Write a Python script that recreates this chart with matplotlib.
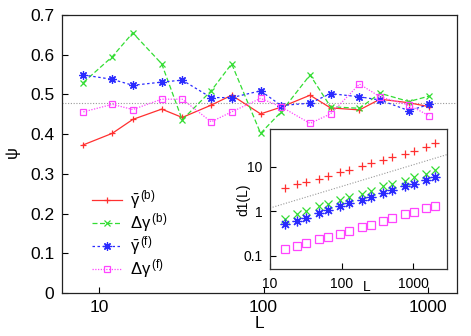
import numpy as np
import matplotlib
matplotlib.use("Agg")
import matplotlib.pyplot as plt

plt.rcParams.update({"font.family": "Liberation Sans", "font.size": 12.5,
                     "mathtext.fontset": "custom",
                     "mathtext.rm": "Liberation Sans",
                     "mathtext.it": "Liberation Sans",
                     "mathtext.sf": "Liberation Sans"})

RED, GREEN, BLUE, MAG = "#ff3030", "#33dd33", "#2a2aff", "#ff44ff"
STAR = (8, 2, 0)   # gnuplot pt 3: + and x together

# main panel: psi vs L
L_main = [8, 12, 16, 24, 32, 48, 64, 96, 128, 192, 256, 384, 512, 768, 1024]
gbar_b = [0.373, 0.402, 0.437, 0.463, 0.442, 0.473, 0.498, 0.451, 0.468, 0.498,
          0.466, 0.461, 0.488, 0.479, 0.469]
dg_b = [0.530, 0.595, 0.655, 0.577, 0.436, 0.509, 0.577, 0.402, 0.456, 0.549,
        0.469, 0.465, 0.503, 0.482, 0.496]
gbar_f = [0.549, 0.538, 0.523, 0.531, 0.536, 0.492, 0.492, 0.509, 0.472, 0.478,
          0.502, 0.494, 0.486, 0.459, 0.475]
dg_f = [0.456, 0.475, 0.462, 0.488, 0.488, 0.431, 0.456, 0.490, 0.469, 0.427,
        0.451, 0.526, 0.494, 0.473, 0.446]
psi_ref = 0.478

# inset: d1(L)
L_in = [16, 24, 32, 48, 64, 96, 128, 192, 256, 384, 512, 768, 1024, 1536, 2048]
d1_gbar_b = [3.36, 4.13, 4.58, 5.44, 6.14, 7.71, 8.69, 10.7, 12.3, 14.6, 16.8,
             20.0, 23.3, 28.7, 33.6]
d1_dg_b = [0.68, 0.87, 1.03, 1.29, 1.46, 1.83, 2.10, 2.50, 2.91, 3.65, 4.13,
           4.91, 5.82, 7.06, 8.38]
d1_gbar_f = [0.516, 0.623, 0.728, 0.915, 1.05, 1.29, 1.54, 1.83, 2.10, 2.59,
             2.96, 3.65, 4.13, 5.16, 5.94]
d1_dg_f = [0.143, 0.168, 0.192, 0.237, 0.263, 0.312, 0.365, 0.442, 0.506, 0.614,
           0.706, 0.869, 0.98, 1.21, 1.34]
guide_x = [10, 3000]
guide_y = [1.19, 19.0]

fig = plt.figure(figsize=(4.71, 3.36), dpi=100)
ax = fig.add_axes([0.1316, 0.128, 0.838, 0.8274])

ax.axhline(psi_ref, color="#999999", lw=0.8, ls=(0, (1, 1.5)), zorder=1)
ax.plot(L_main, gbar_b, color=RED, lw=0.9, ls="-", marker="+", ms=5, mew=0.9,
        label=r"$\bar{\gamma}^{\,(\mathrm{b})}$")
ax.plot(L_main, dg_b, color=GREEN, lw=0.9, ls=(0, (4, 2)), marker="x", ms=5, mew=0.9,
        label=r"$\Delta\gamma^{\,(\mathrm{b})}$")
ax.plot(L_main, gbar_f, color=BLUE, lw=0.9, ls=(0, (2, 2)), marker=STAR, ms=6, mew=0.9,
        label=r"$\bar{\gamma}^{\,(\mathrm{f})}$")
ax.plot(L_main, dg_f, color=MAG, lw=0.9, ls=(0, (1, 1.2)), marker="s", ms=5, mew=0.9,
        mfc="none", label=r"$\Delta\gamma^{\,(\mathrm{f})}$")

ax.set_xscale("log")
ax.set_xlim(5.93, 1500)
ax.set_ylim(0, 0.7)
ax.set_xticks([10, 100, 1000])
ax.set_xticklabels(["10", "100", "1000"])
ax.xaxis.set_minor_locator(matplotlib.ticker.NullLocator())
ax.set_yticks(np.arange(0, 0.71, 0.1))
ax.set_yticklabels(["0"] + [f"{v:.1f}" for v in np.arange(0.1, 0.71, 0.1)])
ax.tick_params(direction="in", length=4, width=0.8, top=False, right=False)
ax.tick_params(axis="y", pad=5.5)
ax.tick_params(axis="x", pad=5)
ax.set_xlabel("L", labelpad=1)
ax.set_ylabel(r"$\psi$", fontsize=12)
ax.yaxis.set_label_coords(-0.10, 0.5)
for s in ax.spines.values():
    s.set_linewidth(0.9)
    s.set_color("#222222")

ax.legend(loc="upper left", bbox_to_anchor=(0.06, 0.40), frameon=False,
          handlelength=1.8, handletextpad=0.45, labelspacing=0.0, fontsize=12,
          borderaxespad=0)

# inset
ai = fig.add_axes([0.5732, 0.1985, 0.3765, 0.4167])
ai.plot(guide_x, guide_y, color="#999999", lw=0.8, ls=(0, (1, 1.5)))
ai.plot(L_in, d1_gbar_b, ls="none", color=RED, marker="+", ms=6, mew=0.9)
ai.plot(L_in, d1_dg_b, ls="none", color=GREEN, marker="x", ms=6, mew=0.9)
ai.plot(L_in, d1_gbar_f, ls="none", color=BLUE, marker=STAR, ms=7, mew=0.9)
ai.plot(L_in, d1_dg_f, ls="none", color=MAG, marker="s", ms=5.5, mew=0.9, mfc="none")
ai.set_xscale("log")
ai.set_yscale("log")
ai.set_xlim(10, 3000)
ai.set_ylim(0.05, 70)
ai.set_xticks([10, 100, 1000])
ai.set_xticklabels(["10", "100", "1000"])
ai.set_yticks([0.1, 1, 10])
ai.set_yticklabels(["0.1", "1", "10"])
ai.xaxis.set_minor_locator(matplotlib.ticker.NullLocator())
ai.yaxis.set_minor_locator(matplotlib.ticker.NullLocator())
ai.tick_params(direction="in", length=4, width=0.8, pad=5.5, labelsize=10,
               top=False, right=False)
ai.set_ylabel("d1(L)", fontsize=10)
ai.yaxis.set_label_coords(-0.113, 0.5)
ai.set_xlabel("L", fontsize=10)
ai.xaxis.set_label_coords(0.545, -0.075)
for s in ai.spines.values():
    s.set_linewidth(0.9)
    s.set_color("#333333")

fig.savefig("out.png", dpi=100, facecolor="white")
